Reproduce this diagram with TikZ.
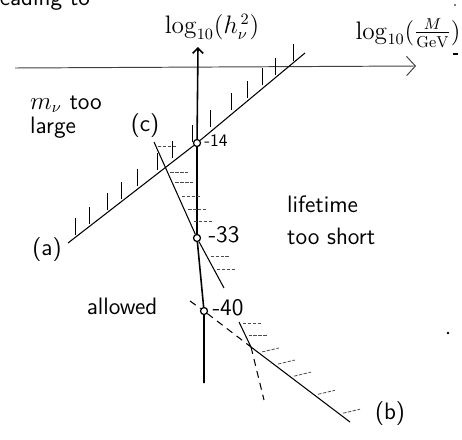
\documentclass[tikz,border=0pt]{standalone}
\usetikzlibrary{calc,arrows.meta}
\begin{document}
\begin{tikzpicture}[x=0.02cm,y=-0.02cm,
  every node/.style={font=\sffamily\fontsize{13.5}{16}\selectfont,inner sep=1pt},
  axisline/.style={line width=0.9pt},
  faintaxis/.style={line width=0.55pt,black!75},
  pencil/.style={line width=0.6pt},
  dashline/.style={line width=0.6pt,dash pattern=on 4pt off 3pt},
  tickmark/.style={line width=0.55pt},
  hatchmark/.style={line width=0.45pt,black!70,dash pattern=on 2pt off 0.8pt},
  dot/.style={circle,draw,line width=0.7pt,inner sep=0pt,minimum size=4pt}]
\useasboundingbox (0,0) rectangle (462,439);
\clip (0,0) rectangle (462,439);

\node[anchor=base east] (cut) at (92,6) {leading to};

\coordinate (htail) at (15,68);
\coordinate (hhead) at (416,66);
\coordinate (vtail) at (204,383);
\coordinate (vhead) at (198,47);
\node[dot] (p14) at (197,143) {};
\node[dot] (p33) at (197,238) {};
\node[dot] (p40) at (204,311) {};

\coordinate (a0) at (68,243);
\coordinate (a1) at (305,53);
\coordinate (c0) at (154,142);
\coordinate (c1) at (224,288);
\coordinate (c2) at (239,322);
\coordinate (c3) at (264,400);
\coordinate (bc) at (251,347);
\coordinate (b0) at (190,301);
\coordinate (b1) at (350,422);

\draw[faintaxis,-{Straight Barb[length=5pt,width=11pt]}] (htail) -- (hhead);
\draw[axisline,-{Straight Barb[length=3pt,width=6pt]}] (vtail) -- (p40) -- (p33) -- (p14) -- (vhead);

\draw[pencil] (a0) -- (p14) -- (a1);
\foreach \x in {75,89,107,121,137,157,172,192,210,231,247,262,275,293}
  \draw[tickmark] ($(a0)!{(\x-68)/237}!(a1)$) ++(0,-2) -- ++(0,-17);

\draw[pencil] (c0) -- (p33) -- (c1);
\draw[pencil] (c2) -- (bc);
\draw[dashline] (bc) -- (c3);
\foreach \y in {146,172,182,196,209,221,256,269,323,335}
  \draw[hatchmark] ($(c0)!{(\y-142)/146}!(c1)$) ++(2,0) -- ++(18,0);

\draw[dashline] (b0) -- (p40) -- (bc);
\draw[pencil] (bc) -- (b1);
\foreach \x in {260,276,292,316,341}
  \draw[hatchmark] ($(b0)!{(\x-190)/160}!(b1)$) ++(2,-2) -- ++(17,-4);

\node (ylab) at (212,27) {$\log_{10}(h_\nu^{\,2})$};
\node (xlab) at (408,33) {$\log_{10}\Bigl({\textstyle\frac{M}{\mathrm{GeV}}}\Bigr)$};
\node[font=\sffamily\fontsize{10}{12}\selectfont] (l14) at (216,141) {-14};
\node (l33) at (224,235) {-33};
\node (l40) at (228,308) {-40};
\node (la) at (47,250) {(a)};
\node (lb) at (390,414) {(b)};
\node (lc) at (145,126) {(c)};
\node[align=left,font=\sffamily\fontsize{13.5}{14}\selectfont] (large) at (66,117) {$m_\nu$ too\\large};
\node[anchor=west,align=left,font=\sffamily\fontsize{13.5}{18}\selectfont] (short) at (285,220) {lifetime\\too short};
\node (allowed) at (122,306) {allowed};

\fill (448,333) circle (0.8pt);
\fill (455,5) circle (0.5pt);
\draw[pencil] (453,54) -- (458,54);
\end{tikzpicture}
\end{document}
